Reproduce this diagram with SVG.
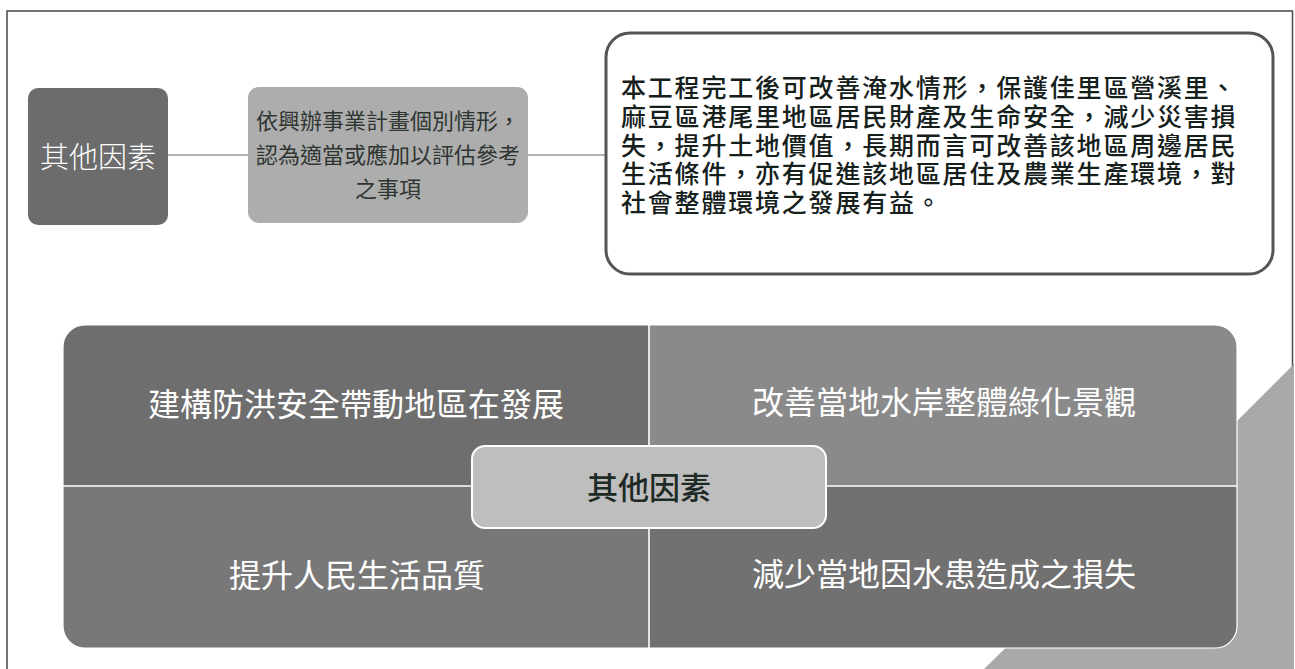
<svg xmlns="http://www.w3.org/2000/svg" width="1295" height="669" viewBox="0 0 1295 669">
<style>
text{font-family:"Noto Sans CJK TC","Noto Sans CJK SC",sans-serif;}
.q{fill:#ffffff;font-size:32px;text-anchor:middle;}
.b2{fill:#2f3632;font-size:22px;text-anchor:middle;}
.desc{fill:#15201b;font-size:25px;letter-spacing:1.8px;font-weight:500;}
.conn{stroke:#9c9c9c;stroke-width:1.3;fill:none;}
</style>
<defs>
<clipPath id="panelClip"><rect x="63" y="325" width="1174" height="323" rx="22" ry="22"/></clipPath>
</defs>
<rect x="0" y="0" width="1295" height="669" fill="#ffffff"/>
<g id="frame">
<rect x="7" y="11" width="1285.5" height="700" fill="none" stroke="#4f5350" stroke-width="1.6"/>
</g>
<g id="deco">
<polygon points="1294,364 1294,669 984,669 1180,478" fill="#a9a9a9"/>
</g>
<g id="connectors">
<line class="conn" x1="168" y1="155" x2="248" y2="155"/>
<line class="conn" x1="528" y1="155" x2="606" y2="155"/>
</g>
<g id="node-factor">
<rect x="28" y="88" width="140" height="137" rx="10" ry="10" fill="#6c6c6c"/>
<text x="98" y="168" fill="#ffffff" font-size="29" font-weight="300" text-anchor="middle">其他因素</text>
</g>
<g id="node-criteria">
<rect x="248" y="87" width="280" height="136" rx="11" ry="11" fill="#adadad"/>
<text class="b2" x="388" y="129">依興辦事業計畫個別情形，</text>
<text class="b2" x="388" y="163">認為適當或應加以評估參考</text>
<text class="b2" x="388" y="197">之事項</text>
</g>
<g id="node-description">
<rect x="606" y="33" width="667" height="241" rx="24" ry="24" fill="#ffffff" stroke="#545454" stroke-width="3"/>
<text class="desc" x="621" y="97">本工程完工後可改善淹水情形，保護佳里區營溪里、</text>
<text class="desc" x="621" y="126">麻豆區港尾里地區居民財產及生命安全，減少災害損</text>
<text class="desc" x="621" y="155">失，提升土地價值，長期而言可改善該地區周邊居民</text>
<text class="desc" x="621" y="183">生活條件，亦有促進該地區居住及農業生產環境，對</text>
<text class="desc" x="621" y="212">社會整體環境之發展有益。</text>
</g>
<g id="node-panel">
<g clip-path="url(#panelClip)">
<rect x="63" y="325" width="586" height="161" fill="#6e6e6e"/>
<rect x="649" y="325" width="588" height="161" fill="#8a8a8a"/>
<rect x="63" y="486" width="586" height="162" fill="#787878"/>
<rect x="649" y="486" width="588" height="162" fill="#717171"/>
</g>
<rect x="63" y="325" width="1174" height="323" rx="22" ry="22" fill="none" stroke="#ffffff" stroke-width="1.2"/>
<line x1="649" y1="325" x2="649" y2="648" stroke="#ffffff" stroke-width="1.6"/>
<line x1="63" y1="486" x2="1237" y2="486" stroke="#ffffff" stroke-width="1.6"/>
</g>
<g id="node-q1"><text class="q" x="356" y="416">建構防洪安全帶動地區在發展</text></g>
<g id="node-q2"><text class="q" x="944" y="414">改善當地水岸整體綠化景觀</text></g>
<g id="node-q3"><text class="q" x="357" y="587">提升人民生活品質</text></g>
<g id="node-q4"><text class="q" x="944" y="586">減少當地因水患造成之損失</text></g>
<g id="node-center">
<rect x="472" y="446" width="354" height="82" rx="13" ry="13" fill="#bebebe" stroke="#ffffff" stroke-width="2"/>
<text x="649" y="499" fill="#1e2a25" font-size="31" font-weight="500" text-anchor="middle">其他因素</text>
</g>
</svg>
